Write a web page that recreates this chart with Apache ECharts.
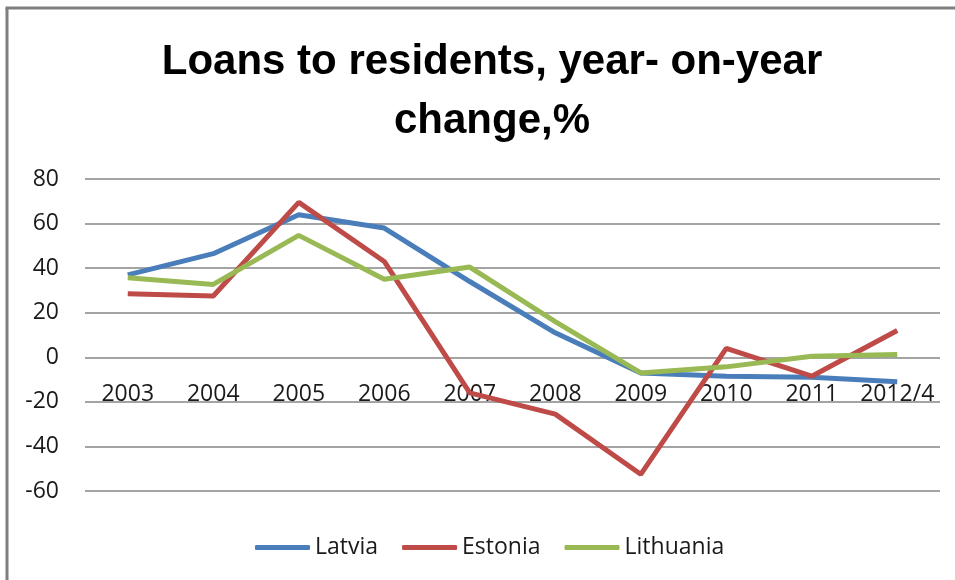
<!DOCTYPE html>
<html>
<head>
<meta charset="utf-8">
<script src="https://cdn.jsdelivr.net/npm/echarts@6/dist/echarts.min.js"></script>
<style>html,body{margin:0;padding:0;background:#fff;}#c{width:955px;height:580px;}</style>
</head>
<body>
<div id="c"></div>
<script>
const titleText = "Loans to residents, year- on-year\nchange,%";
const categories = ["2003","2004","2005","2006","2007","2008","2009","2010","2011","2012/4"];
const latvia = [37, 46.5, 64, 58, 34, 11, -7, -8.5, -9, -11];
const estonia = [28.5, 27.5, 69.5, 43, -16, -25.5, -52.5, 4, -8.5, 12];
const lithuania = [35.7, 32.7, 54.7, 35, 40.5, 16, -7, -4.3, 0.5, 1.2];
const seriesNames = ["Latvia", "Estonia", "Lithuania"];
const colors = ["#4A7EBB", "#BE4B48", "#98B954"];

const font = "'Open Sans', 'Liberation Sans', sans-serif";
const chart = echarts.init(document.getElementById('c'), null, {renderer: 'canvas'});
const dataArr = [latvia, estonia, lithuania];
chart.setOption({
  animation: false,
  backgroundColor: '#ffffff',
  title: {
    text: titleText,
    left: 487, top: 28, textAlign: 'center',
    textStyle: {fontFamily: "'Liberation Sans', sans-serif", fontWeight: 'bold', fontSize: 42, lineHeight: 59, color: '#000'}
  },
  graphic: [
    {type: 'line', shape: {x1: 5.5, y1: 8, x2: 955, y2: 8}, style: {stroke: '#7f7f7f', lineWidth: 3}},
    {type: 'line', shape: {x1: 7, y1: 8, x2: 7, y2: 580}, style: {stroke: '#7f7f7f', lineWidth: 3}}
  ],
  legend: {
    data: seriesNames,
    left: 250, top: 531,
    icon: 'roundRect', itemWidth: 55, itemHeight: 5, itemGap: 24,
    textStyle: {fontFamily: font, fontSize: 23, color: '#1a1a1a'}
  },
  grid: {left: 85, right: 15, top: 179, bottom: 89, containLabel: false},
  xAxis: {
    type: 'category', data: categories, boundaryGap: true,
    position: 'bottom', offset: -134,
    axisLine: {show: false, onZero: false},
    axisTick: {show: false},
    axisLabel: {fontFamily: font, fontSize: 23, color: '#1a1a1a', margin: 26, interval: 0}
  },
  yAxis: {
    type: 'value', min: -60, max: 80, interval: 20,
    axisLine: {show: false}, axisTick: {show: false},
    axisLabel: {fontFamily: font, fontSize: 23, color: '#1a1a1a', margin: 26},
    splitLine: {lineStyle: {color: '#868686', width: 1.5}}
  },
  series: seriesNames.map((n, i) => ({
    name: n, type: 'line', data: dataArr[i], showSymbol: false, symbol: 'none',
    lineStyle: {color: colors[i], width: 5}, itemStyle: {color: colors[i]}
  }))
});
</script>
</body>
</html>
